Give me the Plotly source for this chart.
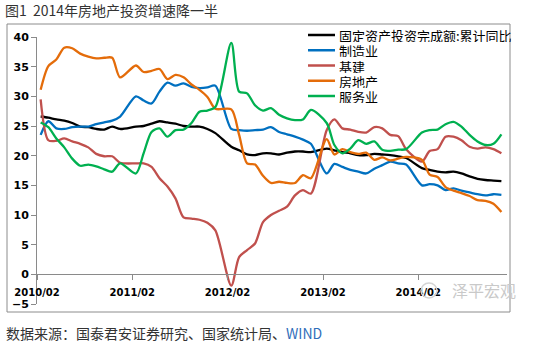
import plotly.graph_objects as go

# ---------------- data ----------------
years = [2010, 2011, 2012, 2013, 2014]
months = [2, 3, 4, 5, 6, 7, 8, 9, 10, 11, 12]
dates = [f"{y}-{m:02d}" for y in years for m in months]

series_names = ["固定资产投资完成额:累计同比", "制造业", "基建", "房地产", "服务业"]
series_colors = ["#000000", "#0070C0", "#C0504D", "#E46C0A", "#00B050"]

fai_total = [
    26.6, 26.4, 26.1, 25.9, 25.5, 24.9, 24.8, 24.5, 24.4, 24.9, 24.5,
    24.9, 25.0, 25.4, 25.8, 25.6, 25.4, 25.0, 24.9, 24.9, 24.5, 23.8,
    21.5, 20.9, 20.2, 20.1, 20.4, 20.4, 20.2, 20.5, 20.7, 20.7, 20.6,
    21.2, 20.9, 20.6, 20.4, 20.1, 20.1, 20.3, 20.2, 20.1, 19.9, 19.6,
    17.9, 17.6, 17.3, 17.2, 17.3, 17.0, 16.5, 16.1, 15.9, 15.8, 15.7,
]
manufacturing = [
    23.5, 25.8, 24.6, 24.5, 24.8, 24.9, 24.9, 25.3, 25.6, 25.9, 26.6,
    30.0, 29.3, 28.8, 30.8, 32.3, 31.8, 32.2, 31.6, 31.4, 31.5, 31.8,
    24.5, 24.3, 24.2, 24.3, 24.4, 24.8, 24.0, 23.6, 23.2, 22.7, 22.0,
    17.0, 18.6, 18.1, 17.6, 17.3, 17.0, 17.8, 18.4, 19.0, 18.7, 18.5,
    15.0, 15.2, 15.0, 14.2, 14.5, 14.1, 13.8, 13.5, 13.3, 13.5, 13.4,
]
infrastructure = [
    29.5, 22.6, 22.5, 22.9, 22.4, 22.0, 21.4, 20.3, 19.9, 19.9, 18.8,
    18.7, 18.7, 18.1, 16.2, 14.8, 12.8, 9.6, 9.4, 9.2, 8.7, 7.4,
    -1.9, 2.9, 4.1, 5.2, 8.8, 10.0, 10.7, 11.4, 13.3, 14.2, 13.6,
    24.3, 26.1, 24.6, 24.4, 24.0, 23.9, 24.8, 24.6, 23.5, 23.3, 21.1,
    19.0, 20.8, 21.1, 23.2, 23.2, 22.6, 21.5, 21.2, 21.4, 21.1, 20.4,
]
real_estate = [
    31.1, 35.1, 36.2, 38.2, 38.1, 37.2, 36.7, 36.4, 36.5, 36.5, 33.2,
    35.2, 34.1, 34.3, 34.6, 32.9, 33.6, 33.2, 32.0, 31.1, 29.9, 27.9,
    27.8, 23.5, 18.7, 18.5, 16.6, 15.4, 15.6, 15.4, 15.4, 16.7, 16.2,
    22.8, 20.2, 21.1, 20.6, 20.3, 20.5, 19.3, 19.7, 19.2, 19.5, 19.8,
    19.3, 16.8, 16.4, 14.7, 14.1, 13.7, 13.2, 12.5, 12.4, 11.9, 10.5,
]
services = [
    25.6, 24.8, 22.9, 21.4, 19.5, 18.3, 18.5, 18.2, 17.7, 17.3, 18.7,
    17.0, 20.4, 24.0, 24.6, 23.2, 24.3, 24.4, 25.5, 27.4, 27.6, 28.2,
    39.0, 30.8, 30.5, 28.5, 27.6, 28.0, 26.9, 26.3, 26.0, 26.1, 27.7,
    25.5, 21.8, 20.4, 21.2, 22.6, 22.0, 22.4, 21.0, 20.8, 21.0, 21.1,
    23.9, 24.3, 24.4, 25.3, 25.7, 24.9, 23.5, 22.4, 21.8, 22.0, 23.6,
]
series_values = [fai_total, manufacturing, infrastructure, real_estate, services]

tick_dates = ["2010-02-01", "2011-02-01", "2012-02-01", "2013-02-01", "2014-02-01"]
tick_labels = ["2010/02", "2011/02", "2012/02", "2013/02", "2014/02"]
y_min, y_max, y_step = -5, 40, 5

# ---------------- layout geometry ----------------
W, H = 547, 352
ML, MR, MT, MB = 37, 40, 37, 48
PW, PH = W - ML - MR, H - MT - MB


def px(X):
    return (X - ML) / PW


def py(Y):
    return (H - MB - Y) / PH


fig = go.Figure()
for name, vals, col in zip(series_names, series_values, series_colors):
    fig.add_trace(go.Scatter(
        x=dates, y=vals, name=name, mode="lines",
        xperiod="M1", xperiodalignment="middle",
        line=dict(color=col, width=2.3, shape="spline", smoothing=0.8),
        showlegend=False, hoverinfo="x+y+name",
    ))

axis_grey = "#8a8a8a"
tick_font = dict(family="DejaVu Sans", size=10, color="black", weight="bold")

shapes = []
annotations = []

# outer frame
shapes.append(dict(type="rect", xref="paper", yref="paper",
                   x0=px(7), x1=px(510), y0=py(312), y1=py(24),
                   line=dict(color="#8c8c8c", width=1), fillcolor="rgba(0,0,0,0)"))

# custom legend (compact rows like the reference)
row_y = 35
for name, col in zip(series_names, series_colors):
    shapes.append(dict(type="line", xref="paper", yref="paper",
                       x0=px(308), x1=px(335), y0=py(row_y), y1=py(row_y),
                       line=dict(color=col, width=2.5)))
    annotations.append(dict(xref="paper", yref="paper", x=px(337), y=py(row_y),
                            xanchor="left", yanchor="middle", showarrow=False,
                            text=name, height=14, valign="middle",
                            font=dict(family="Noto Sans CJK SC", size=13, color="#000000")))
    row_y += 15.25

# title
annotations.append(dict(xref="paper", yref="paper", x=px(3), y=py(10),
                        xanchor="left", yanchor="middle", showarrow=False,
                        text="图1  2014年房地产投资增速降一半",
                        font=dict(family="Noto Sans CJK SC", size=14, color="#333333")))
# source
annotations.append(dict(xref="paper", yref="paper", x=px(4), y=py(333),
                        xanchor="left", yanchor="middle", showarrow=False,
                        text="数据来源：国泰君安证券研究、国家统计局、<span style='color:#2F6EBA'>WIND</span>",
                        font=dict(family="Noto Sans CJK SC", size=14, color="#333333")))
# watermark
shapes.append(dict(type="circle", xref="paper", yref="paper",
                   x0=px(421), x1=px(437), y0=py(298), y1=py(283),
                   line=dict(color="#d4d4d4", width=1.5), fillcolor="rgba(0,0,0,0)"))
annotations.append(dict(xref="paper", yref="paper", x=px(484), y=py(290),
                        xanchor="center", yanchor="middle", showarrow=False,
                        text="泽平宏观",
                        font=dict(family="Noto Sans CJK SC", size=16, color="#c9c9c9")))

fig.update_layout(
    width=W, height=H,
    margin=dict(l=ML, r=MR, t=MT, b=MB, pad=0),
    paper_bgcolor="white", plot_bgcolor="white",
    showlegend=False,
    xaxis=dict(
        type="date", range=["2010-02-01", "2015-01-07"],
        tickvals=tick_dates, ticktext=tick_labels,
        ticks="outside", ticklen=5, tickwidth=1, tickcolor=axis_grey,
        showline=True, linecolor=axis_grey, linewidth=1,
        showgrid=False, zeroline=False,
        anchor="free", position=(0 - y_min) / (y_max - y_min),
        tickfont=tick_font, ticklabelstandoff=4,
    ),
    yaxis=dict(
        range=[y_min, y_max], tick0=0, dtick=y_step,
        ticks="outside", ticklen=5, tickwidth=1, tickcolor=axis_grey,
        showline=True, linecolor=axis_grey, linewidth=1,
        showgrid=False, zeroline=False,
        tickfont=dict(family="DejaVu Sans", size=11, color="black", weight="bold"),
    ),
    shapes=shapes,
    annotations=annotations,
)

fig.write_html("out.html")
